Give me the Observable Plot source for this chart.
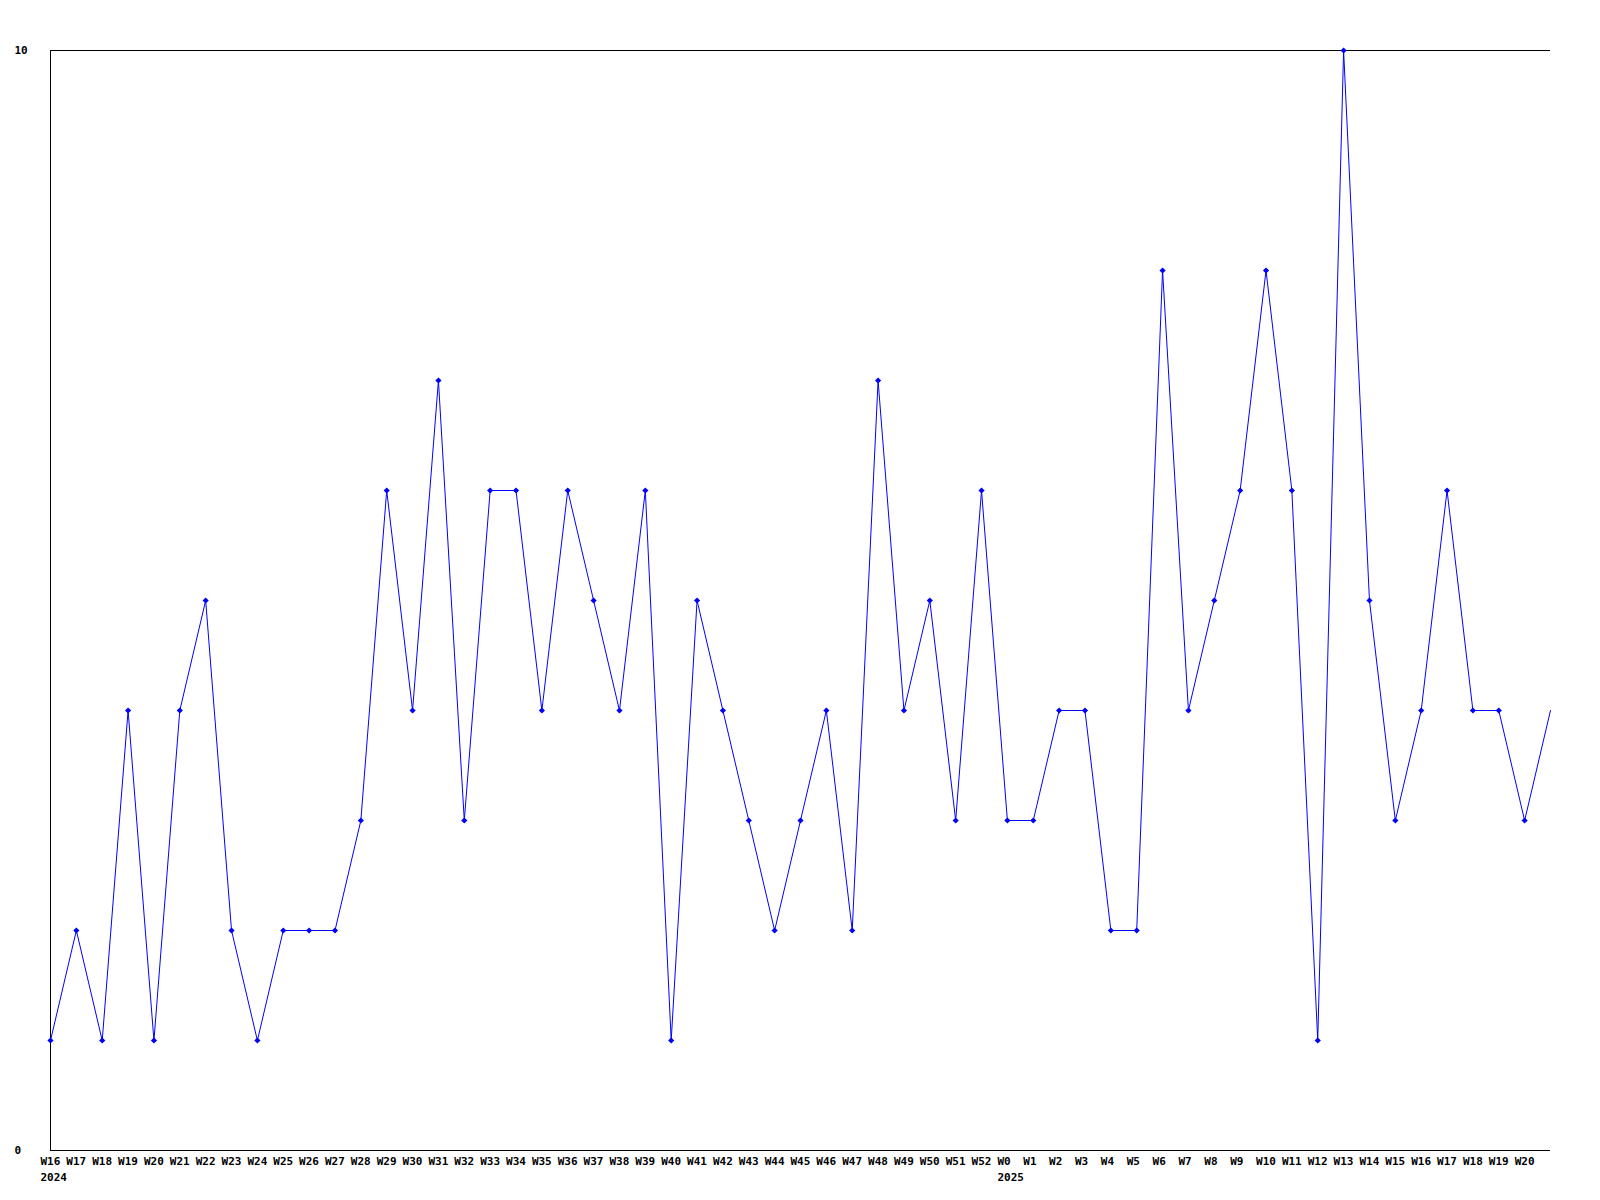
<!DOCTYPE html>
<html>
<head>
<meta charset="utf-8">
<script src="https://cdn.jsdelivr.net/npm/d3@7"></script>
<script src="https://cdn.jsdelivr.net/npm/@observablehq/plot@0.6"></script>
<style>
  html, body { margin: 0; padding: 0; background: #fff; }
  #chart svg { display: block; }
</style>
</head>
<body>
<div id="chart"></div>
<script>
const weeks = [
  "W16","W17","W18","W19","W20","W21","W22","W23","W24","W25","W26","W27","W28","W29","W30","W31","W32","W33","W34",
  "W35","W36","W37","W38","W39","W40","W41","W42","W43","W44","W45","W46","W47","W48","W49","W50","W51","W52",
  "W0","W1","W2","W3","W4","W5","W6","W7","W8","W9","W10","W11","W12","W13","W14","W15","W16","W17","W18","W19","W20"
];
const values = [
  1,2,1,4,1,4,5,2,1,2,2,2,3,6,4,7,3,6,6,
  4,6,5,4,6,1,5,4,3,2,3,4,2,7,4,5,3,6,
  3,3,4,4,2,2,8,4,5,6,8,6,1,10,5,3,4,6,4,4,3
];
// trailing point at the right edge (no label, no marker)
const trailingValue = 4;
const years = ["2024", "2025"];
const yearStart = ["W16", "W0"];

const linePts = values.concat([trailingValue]).map((v, i) => ({i, v}));
const markPts = values.map((v, i) => ({i, v}));
const yearPts = years.map((y, k) => ({i: k === 0 ? 0 : weeks.indexOf(yearStart[k]), label: y}));

const font = "'DejaVu Sans Mono', monospace";

const chart = Plot.plot({
  width: 1600,
  height: 1200,
  marginLeft: 50,
  marginRight: 50,
  marginTop: 50,
  marginBottom: 50,
  style: {fontFamily: font, fontSize: "11px", fontWeight: "bold", color: "#000", background: "#fff", overflow: "visible"},
  x: {type: "linear", domain: [0, weeks.length], axis: null},
  y: {domain: [0, 10], axis: null},
  marks: [
    Plot.ruleY([0, 10], {stroke: "#000", strokeWidth: 1}),
    Plot.ruleX([0], {stroke: "#000", strokeWidth: 1}),
    Plot.axisX(d3.range(weeks.length), {
      tickSize: 0, tickPadding: 7, tickFormat: i => weeks[i],
      textAnchor: "start", dx: -10, fontWeight: "bold", fill: "#000", label: null
    }),
    Plot.axisY([0, 10], {
      tickSize: 0, tickFormat: d => String(d), textAnchor: "start", dx: -27,
      fontWeight: "bold", fill: "#000", label: null
    }),
    Plot.text(yearPts, {x: "i", y: () => 0, text: "label", textAnchor: "start", dx: -10, dy: 27, fill: "#000", fontWeight: "bold"}),
    Plot.line(linePts, {x: "i", y: "v", stroke: "#0000ff", strokeWidth: 1, curve: "linear"}),
    Plot.dot(markPts, {x: "i", y: "v", symbol: "diamond2", r: 2.8, fill: "#0000ff", stroke: "none"})
  ]
});
document.getElementById("chart").appendChild(chart);
</script>
</body>
</html>
